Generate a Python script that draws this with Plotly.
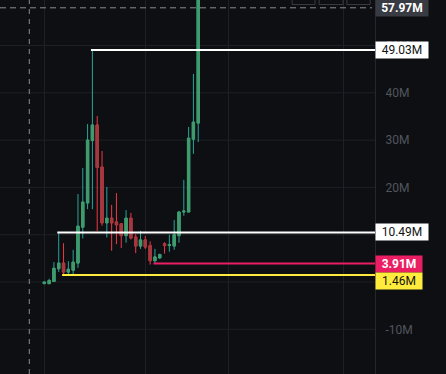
import plotly.graph_objects as go

# ---- data (values in millions) ----
open_ = [-0.35, -0.35, 0.1, 2.8, 4.0, 2.1, 2.5, 4.0, 11.6, 16.7, 29.9, 33.2, 24.3, 12.5, 13.5, 12.7,
         12.3, 9.8, 13.5, 9.5, 7.6, 8.9, 7.7, 4.5, 5.1, 8.1, 7.7, 7.6, 9.8, 14.8, 14.8, 30.2, 33.6]
high = [0.05, 0.7, 4.2, 10.49, 8.2, 4.4, 6.8, 18.6, 24.1, 33.4, 49.03, 35.1, 27.7, 20.1, 16.3, 18.8,
        12.3, 15.2, 14.6, 10.1, 10.8, 9.7, 8.6, 7.0, 6.0, 8.4, 10.0, 13.1, 15.0, 21.6, 32.8, 44.0, 72.0]
low = [-0.35, -0.35, 0.1, 2.1, 1.46, 1.5, 1.5, 3.0, 9.2, 15.4, 15.4, 10.8, 11.9, 9.4, 6.6, 8.0,
       7.2, 8.3, 9.0, 6.1, 7.0, 7.0, 3.7, 3.91, 4.9, 6.0, 6.4, 6.8, 8.3, 14.0, 14.8, 27.1, 29.6]
close = [0.0, 0.3, 2.9, 4.0, 2.1, 2.7, 4.2, 11.8, 16.9, 30.0, 33.2, 24.2, 12.5, 13.5, 12.5, 12.1,
         9.8, 13.5, 9.3, 7.6, 8.9, 7.4, 4.5, 5.3, 5.8, 7.7, 7.9, 10.0, 14.8, 15.0, 30.4, 33.8, 68.0]
bar_index = list(range(len(open_)))

level_values = [49.03, 10.49, 3.91, 1.46]
level_labels = ["49.03M", "10.49M", "<b>3.91M</b>", "1.46M"]
level_start = [10, 3, 23, 4]
level_colors = ["#ffffff", "#ffffff", "#e91e63", "#ffeb3b"]
level_text_colors = ["#131313", "#131313", "#ffffff", "#131313"]
label_yshift = [0, 0, 0, -6]

crosshair_price = 57.97
crosshair_label = "<b>57.97M</b>"
crosshair_bar = -3.12

y_ticks = [-10, 20, 30, 40, 50]
y_tick_text = ["-10M", "20M", "30M", "40M", "50M"]
y_grid = [-10, 0, 10, 20, 30, 40, 50]
x_grid = [0, 21, 38.2, 62.1]

x_range = [-9.21, 68.75]
y_range = [-19.45, 59.62]

BG = "#0e0f12"
GRID = "#1f2025"
UP_BODY, UP_WICK = "#419a6a", "#26a69a"
DN_BODY, DN_WICK = "#a3393f", "#f23645"

body_hi = [max(o, c) for o, c in zip(open_, close)]
body_lo = [min(o, c) for o, c in zip(open_, close)]

fig = go.Figure()
fig.add_trace(go.Candlestick(
    x=bar_index, open=open_, high=high, low=low, close=close,
    increasing=dict(line=dict(color=UP_WICK, width=1), fillcolor=UP_BODY),
    decreasing=dict(line=dict(color=DN_WICK, width=1), fillcolor=DN_BODY),
    whiskerwidth=0, showlegend=False, hoverinfo="skip"))
fig.add_trace(go.Candlestick(
    x=bar_index, open=open_, high=body_hi, low=body_lo, close=close,
    increasing=dict(line=dict(color=UP_BODY, width=1), fillcolor=UP_BODY),
    decreasing=dict(line=dict(color=DN_BODY, width=1), fillcolor=DN_BODY),
    whiskerwidth=0, showlegend=False, hoverinfo="skip"))

shapes = []
annotations = []
# horizontal grid lines (behind)
for g in y_grid:
    shapes.append(dict(type="line", xref="paper", yref="y", x0=0, x1=1, y0=g, y1=g,
                       line=dict(color=GRID, width=1), layer="below"))
for v, s, col, lab, tcol, ys in zip(level_values, level_start, level_colors, level_labels,
                                     level_text_colors, label_yshift):
    shapes.append(dict(type="line", xref="x", yref="y", x0=s - 0.3, x1=x_range[1], y0=v, y1=v,
                       line=dict(color=col, width=2), layer="above"))
    annotations.append(dict(xref="paper", yref="y", x=1, y=v, xanchor="left", yanchor="middle",
                            yshift=ys, text=lab, showarrow=False, bgcolor=col, borderpad=1,
                            width=50 if len(lab.replace("<b>", "").replace("</b>", "")) > 5 else 44,
                            font=dict(family="Roboto", size=12, color=tcol)))

# crosshair
shapes.append(dict(type="line", xref="paper", yref="y", x0=0, x1=0.992, y0=crosshair_price, y1=crosshair_price,
                   line=dict(color="#8c8d91", width=1, dash="6px,4px"), layer="above"))
shapes.append(dict(type="line", xref="x", yref="paper", x0=crosshair_bar, x1=crosshair_bar, y0=0, y1=1,
                   line=dict(color="#8c8d91", width=1, dash="5px,5px"), layer="above"))
annotations.append(dict(xref="paper", yref="y", x=1, y=crosshair_price, xanchor="left", yanchor="middle",
                        text=crosshair_label, showarrow=False, bgcolor="#393b43", borderpad=1, width=50,
                        font=dict(family="Roboto", size=12, color="#ffffff")))

# top toolbar buttons (UI decoration)
for bx0, bx1 in [(0.779, 0.84), (0.851, 0.915), (0.925, 0.987)]:
    shapes.append(dict(type="rect", xref="paper", yref="paper", x0=bx0, x1=bx1, y0=0.988, y1=1.05,
                       line=dict(color="#3a3b41", width=1), fillcolor="rgba(0,0,0,0)", layer="above"))

fig.update_layout(
    width=446, height=374,
    margin=dict(l=0, r=71, t=0, b=0, autoexpand=False),
    paper_bgcolor=BG, plot_bgcolor=BG,
    shapes=shapes, annotations=annotations,
    showlegend=False,
    xaxis=dict(range=x_range, rangeslider=dict(visible=False), showticklabels=False,
               tickvals=x_grid, showgrid=True, gridcolor=GRID, gridwidth=1, zeroline=False,
               ticks="", fixedrange=True),
    yaxis=dict(range=y_range, side="right", tickvals=y_ticks, ticktext=y_tick_text,
               showgrid=False, zeroline=False,
               showline=True, linecolor="#26272c", linewidth=1, ticks="",
               ticklabelstandoff=7,
               tickfont=dict(family="Roboto", size=12, color="#52555e")),
)

fig.write_html("out.html", config={"displayModeBar": False},
               post_script="document.body.style.margin='0';document.body.style.background='" + BG + "';")
